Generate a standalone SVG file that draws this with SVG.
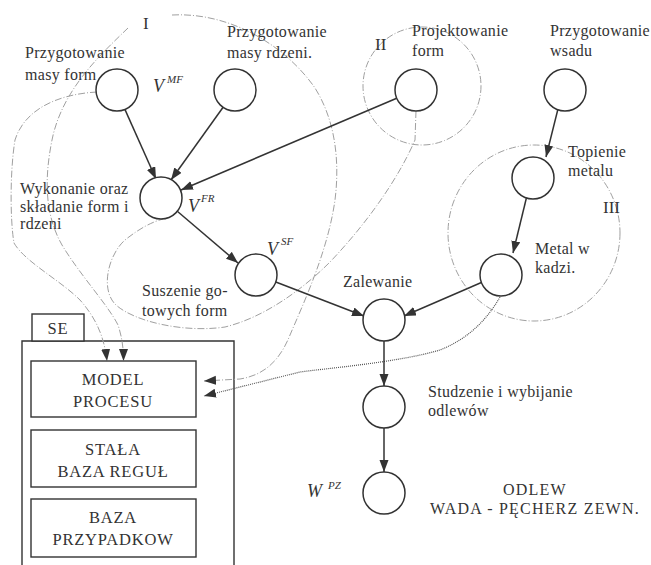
<svg xmlns="http://www.w3.org/2000/svg" width="651" height="565" viewBox="0 0 651 565">
<style>
  text { font-family: "Liberation Serif", "Times New Roman", serif; font-size: 16px; fill: #333; }
  .lbl { letter-spacing: 0.3px; }
  .v { font-style: italic; font-size: 18px; }
  .sup { font-style: italic; font-size: 11px; }
  .roman { font-size: 17px; }
  .box { font-size: 16.5px; letter-spacing: 0.8px; text-anchor: middle; }
  .node { fill: #fff; stroke: #333; stroke-width: 1.5; }
  .edge { fill: none; stroke: #333; stroke-width: 1.5; }
  .dash { fill: none; stroke: #a0a0a0; stroke-width: 1; stroke-dasharray: 7 2 1 2; }
  .dot { fill: none; stroke: #555; stroke-width: 1.2; stroke-dasharray: 1 1; }
  .frame { fill: #fff; stroke: #333; stroke-width: 1.4; }
</style>
<defs>
  <marker id="arr" markerUnits="userSpaceOnUse" markerWidth="13" markerHeight="10" refX="12" refY="4.5" orient="auto">
    <path d="M0,0 L12,4.5 L0,9 z" fill="#333"/>
  </marker>
</defs>

<g id="regions">
  <circle cx="422" cy="86" r="59" class="dash"/>
  <ellipse cx="534" cy="233" rx="86" ry="88" class="dash"/>
  <text x="143" y="29" class="roman">I</text>
  <text x="375" y="50" class="roman">II</text>
  <text x="603" y="213" class="roman">III</text>
</g>

<g id="se">
  <path d="M22,566 V341 H234 V566" class="frame"/>
  <rect x="32" y="314" width="52" height="27" class="frame"/>
  <text x="58" y="334" class="box" font-size="17">SE</text>
  <g id="model">
    <rect x="31" y="361" width="165" height="56" class="frame"/>
    <text x="113" y="385" class="box">MODEL</text>
    <text x="113" y="407" class="box">PROCESU</text>
  </g>
  <g id="regul">
    <rect x="31" y="430" width="165" height="57" class="frame"/>
    <text x="113" y="455" class="box">STAŁA</text>
    <text x="113" y="477" class="box">BAZA REGUŁ</text>
  </g>
  <g id="przyp">
    <rect x="31" y="499" width="165" height="58" class="frame"/>
    <text x="113" y="523" class="box">BAZA</text>
    <text x="113" y="545" class="box">PRZYPADKOW</text>
  </g>
</g>

<g id="connectors">
  <path class="dash" d="M128,28 C100,55 62,90 52,140 C44,180 45,215 62,245 C80,275 108,305 118,325 C122,337 123.5,348 123.5,361" marker-end="url(#arr)"/>
  <path class="dash" d="M97,92 C60,94 25,108 15,140 C10,170 10,220 14,243 C25,262 60,280 80,300 C95,317 104,335 107,361" marker-end="url(#arr)"/>
  <path class="dash" d="M172,15 C230,12 285,45 315,88 C335,120 340,160 335,200 C328,250 305,300 290,335 C280,360 265,375 240,379 L204,381" marker-end="url(#arr)"/>
  <path class="dash" d="M416,111 L415,140 C400,175 370,220 330,262 C300,292 262,318 225,327 C185,333 135,322 116,305 C100,290 108,255 125,240 C140,228 152,222 163,219"/>
  <path class="dot" d="M500,297 C488,318 470,338 440,350 C400,362 330,368 300,372 L204,396" marker-end="url(#arr)"/>

  <line class="edge" x1="124.9" y1="109.4" x2="156" y2="179" marker-end="url(#arr)"/>
  <line class="edge" x1="223.1" y1="107.3" x2="171" y2="180" marker-end="url(#arr)"/>
  <line class="edge" x1="396.7" y1="98.2" x2="181" y2="190" marker-end="url(#arr)"/>
  <line class="edge" x1="177.3" y1="211.2" x2="238" y2="263" marker-end="url(#arr)"/>
  <line class="edge" x1="275.8" y1="282" x2="364" y2="316" marker-end="url(#arr)"/>
  <line class="edge" x1="481.4" y1="282.5" x2="404" y2="316" marker-end="url(#arr)"/>
  <line class="edge" x1="557.8" y1="109.7" x2="546" y2="157" marker-end="url(#arr)"/>
  <line class="edge" x1="526.4" y1="198" x2="513" y2="253" marker-end="url(#arr)"/>
  <line class="edge" x1="384" y1="341" x2="384" y2="386" marker-end="url(#arr)"/>
  <line class="edge" x1="384" y1="428" x2="384" y2="472" marker-end="url(#arr)"/>
</g>

<g id="n-masy-form">
  <circle cx="117" cy="90" r="21" class="node"/>
  <text x="25" y="58" class="lbl">Przygotowanie</text>
  <text x="25" y="80" class="lbl">masy form</text>
  <text x="153" y="92" class="v">V</text>
  <text x="167" y="83" class="sup">MF</text>
</g>
<g id="n-masy-rdzeni">
  <circle cx="235" cy="90" r="21" class="node"/>
  <text x="227" y="37" class="lbl">Przygotowanie</text>
  <text x="227" y="58" class="lbl">masy rdzeni.</text>
</g>
<g id="n-projektowanie">
  <circle cx="416" cy="90" r="21" class="node"/>
  <text x="412" y="36" class="lbl">Projektowanie</text>
  <text x="412" y="56" class="lbl">form</text>
</g>
<g id="n-wsad">
  <circle cx="565" cy="90" r="21" class="node"/>
  <text x="550" y="36" class="lbl">Przygotowanie</text>
  <text x="550" y="56" class="lbl">wsadu</text>
</g>
<g id="n-wykonanie">
  <circle cx="161" cy="198" r="21" class="node"/>
  <text x="20" y="194" class="lbl">Wykonanie oraz</text>
  <text x="20" y="212" class="lbl">składanie form i</text>
  <text x="20" y="229" class="lbl">rdzeni</text>
  <text x="188" y="212" class="v">V</text>
  <text x="201" y="202" class="sup">FR</text>
</g>
<g id="n-suszenie">
  <circle cx="256" cy="275" r="21" class="node"/>
  <text x="142" y="296" class="lbl">Suszenie go-</text>
  <text x="142" y="316" class="lbl">towych form</text>
  <text x="267" y="255" class="v">V</text>
  <text x="281" y="245" class="sup">SF</text>
</g>
<g id="n-topienie">
  <circle cx="533" cy="178" r="21" class="node"/>
  <text x="568" y="157" class="lbl">Topienie</text>
  <text x="568" y="176" class="lbl">metalu</text>
</g>
<g id="n-metal">
  <circle cx="501" cy="275" r="21" class="node"/>
  <text x="535" y="254" class="lbl">Metal w</text>
  <text x="535" y="273" class="lbl">kadzi.</text>
</g>
<g id="n-zalewanie">
  <circle cx="384" cy="320" r="21" class="node"/>
  <text x="343" y="287" class="lbl">Zalewanie</text>
</g>
<g id="n-studzenie">
  <circle cx="384" cy="407" r="21" class="node"/>
  <text x="428" y="397" class="lbl">Studzenie i wybijanie</text>
  <text x="428" y="416" class="lbl">odlewów</text>
</g>
<g id="n-odlew">
  <circle cx="384" cy="493" r="21" class="node"/>
  <text x="307" y="497" class="v">W</text>
  <text x="328" y="489" class="sup">PZ</text>
  <text x="535" y="495" style="text-anchor:middle;letter-spacing:1.2px">ODLEW</text>
  <text x="535" y="514" style="text-anchor:middle;letter-spacing:1.2px">WADA - PĘCHERZ ZEWN.</text>
</g>
</svg>
